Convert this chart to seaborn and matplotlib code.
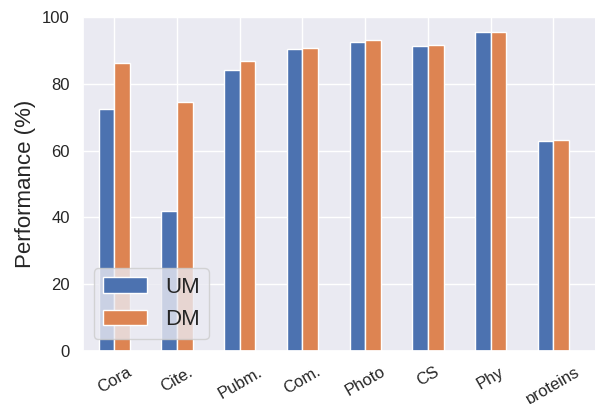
import numpy as np
import matplotlib
matplotlib.use("Agg")
import matplotlib.pyplot as plt
import seaborn as sns

categories = ["Cora", "Cite.", "Pubm.", "Com.", "Photo", "CS", "Phy", "proteins"]
um_values = [72.5, 42.0, 84.1, 90.5, 92.6, 91.3, 95.4, 63.0]
dm_values = [86.1, 74.5, 86.8, 90.7, 93.2, 91.7, 95.6, 63.3]

sns.set_theme(style="darkgrid")
plt.rcParams['font.family'] = ['Liberation Sans', 'DejaVu Sans']

fig = plt.figure(figsize=(5.95, 4.04), dpi=100)
ax = fig.add_axes([83/595, 1-351/404, (596-83)/595, (351-17)/404])

pal = sns.color_palette("deep")
x = np.arange(len(categories))
w = 0.25
ax.bar(x - w/2, um_values, w, label="UM", color=pal[0], edgecolor="white")
ax.bar(x + w/2, dm_values, w, label="DM", color=pal[1], edgecolor="white")

ax.set_xticks(x)
ax.set_xticklabels(categories, rotation=30, fontsize=12)
ax.tick_params(axis='y', labelsize=12)
ax.set_xlim(-0.5, 7.68)
ax.set_ylim(0, 100)
ax.set_ylabel("Performance (%)", fontsize=16)
ax.legend(fontsize=16, loc="lower left", bbox_to_anchor=(0.021, 0.036), borderaxespad=0)

fig.savefig("out.png", dpi=100)
